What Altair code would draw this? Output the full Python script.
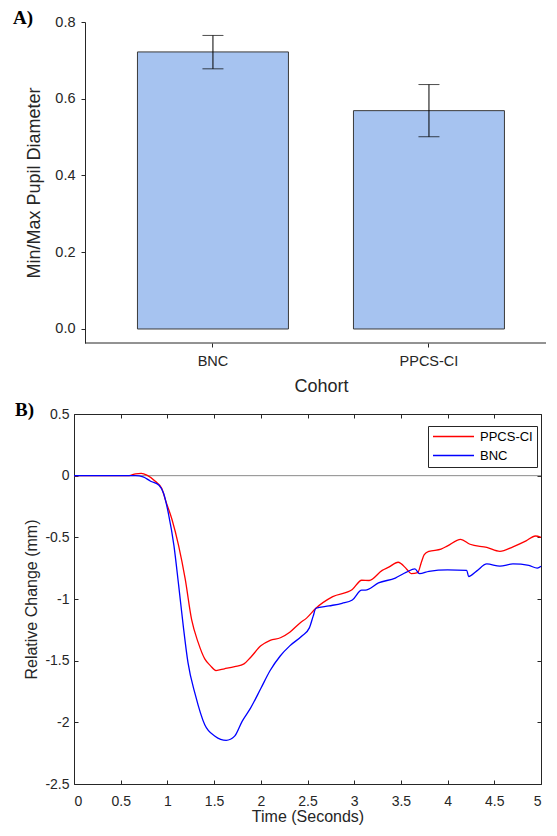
import altair as alt
import pandas as pd

# ---------------- data ----------------
COHORTS = ["BNC", "PPCS-CI"]
RATIO_MEAN = [0.722, 0.569]
RATIO_LOW = [0.678, 0.501]
RATIO_HIGH = [0.765, 0.637]
Y_TICKS_A = [0.0, 0.2, 0.4, 0.6, 0.8]

SERIES = ["PPCS-CI", "BNC"]
RED_T = [0, 0.3, 0.59, 0.66, 0.72, 0.78, 0.87, 0.94, 0.98, 1.05, 1.12, 1.19, 1.26, 1.33,
         1.40, 1.46, 1.52, 1.61, 1.72, 1.82, 1.89, 2.00, 2.10, 2.21, 2.31, 2.42, 2.49,
         2.59, 2.77, 2.98, 3.08, 3.16, 3.30, 3.37, 3.47, 3.56, 3.61, 3.68, 3.72, 3.75,
         3.80, 3.93, 4.00, 4.14, 4.24, 4.42, 4.56, 4.70, 4.84, 4.94, 5.00]
RED_V = [0, 0, 0, 0.015, 0.018, 0.005, -0.045, -0.104, -0.20, -0.357, -0.567, -0.835,
         -1.17, -1.354, -1.486, -1.54, -1.58, -1.566, -1.548, -1.526, -1.474, -1.38,
         -1.335, -1.314, -1.269, -1.194, -1.155, -1.075, -0.981, -0.923, -0.848, -0.85,
         -0.768, -0.742, -0.702, -0.756, -0.794, -0.786, -0.70, -0.64, -0.614, -0.596,
         -0.569, -0.516, -0.556, -0.582, -0.614, -0.577, -0.529, -0.489, -0.50]
BLUE_T = [0, 0.3, 0.6, 0.66, 0.74, 0.82, 0.91, 0.96, 1.01, 1.07, 1.12, 1.17, 1.22, 1.30,
          1.40, 1.51, 1.63, 1.72, 1.80, 1.89, 2.00, 2.10, 2.21, 2.31, 2.44, 2.52, 2.56,
          2.59, 2.73, 2.87, 2.98, 3.08, 3.12, 3.26, 3.44, 3.56, 3.65, 3.70, 3.80, 4.00,
          4.205, 4.225, 4.31, 4.42, 4.56, 4.70, 4.87, 4.96, 5.00]
BLUE_V = [0, 0, 0, 0.0, -0.01, -0.045, -0.077, -0.144, -0.303, -0.567, -0.886, -1.22,
          -1.514, -1.779, -2.019, -2.112, -2.146, -2.112, -1.992, -1.885, -1.726, -1.58,
          -1.46, -1.38, -1.30, -1.234, -1.141, -1.075, -1.056, -1.035, -1.008, -0.928,
          -0.928, -0.87, -0.83, -0.782, -0.756, -0.795, -0.776, -0.764, -0.768, -0.818,
          -0.774, -0.716, -0.734, -0.716, -0.728, -0.75, -0.735]
X_TICKS_B = [0, 0.5, 1, 1.5, 2, 2.5, 3, 3.5, 4, 4.5, 5]
Y_TICKS_B = [-2.5, -2, -1.5, -1, -0.5, 0, 0.5]

# ---------------- styles ----------------
SANS = "Liberation Sans"
SERIF = "Liberation Serif"
AX = "#262626"
WA, HA = 472, 321
WB, HB = 467, 370

bar_df = pd.DataFrame({"Cohort": COHORTS, "mean": RATIO_MEAN, "lo": RATIO_LOW, "hi": RATIO_HIGH})
line_df = pd.concat([
    pd.DataFrame({"t": RED_T, "v": RED_V, "series": SERIES[0]}),
    pd.DataFrame({"t": BLUE_T, "v": BLUE_V, "series": SERIES[1]}),
])
label_a = pd.DataFrame({"panel": ["A)"]})
label_b = pd.DataFrame({"panel": ["B)"]})
zero_df = pd.DataFrame({"zero": [0]})

# ---------------- panel A ----------------
xsA = alt.Scale(range=[11, WA], paddingInner=0.301, paddingOuter=0.2176, align=0.558)
ysA = alt.Scale(domain=[-0.0365, 0.8], nice=False)
x_axis_a = alt.Axis(title="Cohort", labelAngle=0, domain=False, ticks=True, tickSize=4,
                    labelFontSize=14.5, labelPadding=7, titleFontSize=18,
                    titlePadding=10, titleX=247)
y_axis_a = alt.Axis(title="Min/Max Pupil Diameter", values=Y_TICKS_A, format=".1f",
                    offset=-11, tickSize=4, labelFontSize=14.5, labelPadding=6,
                    titleFontSize=18, titlePadding=11)

def xa():
    return alt.X("Cohort:N", sort=COHORTS, scale=xsA, axis=x_axis_a)

def ya(field):
    return alt.Y(field, scale=ysA, axis=y_axis_a)

bars = alt.Chart(bar_df).mark_bar(color="#A6C3F0", stroke="#3a3a3a", strokeWidth=1).encode(
    x=xa(), y=ya("mean:Q"), y2=alt.datum(0)
)
err = alt.Chart(bar_df).mark_rule(color="black", strokeWidth=1).encode(
    x=xa(), y=ya("lo:Q"), y2="hi:Q"
)
cap_lo = alt.Chart(bar_df).mark_tick(color="black", orient="horizontal", size=21, thickness=1).encode(
    x=xa(), y=ya("lo:Q")
)
cap_hi = alt.Chart(bar_df).mark_tick(color="black", orient="horizontal", size=21, thickness=1).encode(
    x=xa(), y=ya("hi:Q")
)
x_line_a = alt.Chart(label_a).mark_rule(color=AX, strokeWidth=1).encode(
    x=alt.value(11), x2=alt.value(WA), y=alt.value(HA)
)
text_a = alt.Chart(label_a).mark_text(font=SERIF, fontSize=19, fontWeight="bold", align="left",
                                      baseline="alphabetic", color="black").encode(
    x=alt.value(-61), y=alt.value(2), text="panel:N"
)
panel_a = alt.layer(bars, err, cap_lo, cap_hi, x_line_a, text_a).properties(width=WA, height=HA)

# ---------------- panel B ----------------
xsB = alt.Scale(domain=[0, 5], nice=False)
ysB = alt.Scale(domain=[-2.5, 0.5], nice=False)

zero_rule = alt.Chart(zero_df).mark_rule(color="#8a8a8a", strokeWidth=1).encode(
    y=alt.Y("zero:Q", scale=ysB, axis=None)
)
lines = alt.Chart(line_df).mark_line(strokeWidth=1.3, interpolate="monotone").encode(
    x=alt.X("t:Q", scale=xsB,
            axis=alt.Axis(orient="bottom", title="Time (Seconds)", values=X_TICKS_B,
                          labelExpr="'' + datum.value", ticks=False, tickSize=0, domain=False,
                          labelFontSize=14, labelPadding=10, titleFontSize=16, titlePadding=0)),
    y=alt.Y("v:Q", scale=ysB,
            axis=alt.Axis(orient="left", title="Relative Change (mm)", values=Y_TICKS_B,
                          labelExpr="'' + datum.value", ticks=False, tickSize=0, domain=False,
                          labelFontSize=14, labelPadding=5, titleFontSize=16, titlePadding=5)),
    color=alt.Color("series:N", sort=SERIES,
                    scale=alt.Scale(domain=SERIES, range=["#FF0000", "#0000FF"]),
                    legend=alt.Legend(title=None, orient="none", legendX=354, legendY=12,
                                      symbolType="stroke", symbolSize=1681, symbolStrokeWidth=1.3,
                                      strokeColor=AX, fillColor="white", padding=4,
                                      labelFont=SANS, labelFontSize=13, labelColor="black",
                                      labelOffset=5, clipHeight=13, rowPadding=5)),
    detail="series:N",
)
ticks_in_1 = alt.Chart(line_df).mark_point(opacity=0).encode(
    x=alt.X("t:Q", scale=xsB,
            axis=alt.Axis(orient="top", offset=-HB, values=X_TICKS_B, labels=False, domain=False,
                          ticks=True, tickSize=4, title=None)),
    y=alt.Y("v:Q", scale=ysB,
            axis=alt.Axis(orient="right", offset=-WB, values=Y_TICKS_B, labels=False, domain=False,
                          ticks=True, tickSize=4, title=None)),
)
ticks_in_2 = alt.Chart(line_df).mark_point(opacity=0).encode(
    x=alt.X("t:Q", scale=xsB,
            axis=alt.Axis(orient="bottom", offset=-HB, values=X_TICKS_B, labels=False, domain=False,
                          ticks=True, tickSize=4, title=None)),
    y=alt.Y("v:Q", scale=ysB,
            axis=alt.Axis(orient="left", offset=-WB, values=Y_TICKS_B, labels=False, domain=False,
                          ticks=True, tickSize=4, title=None)),
)
text_b = alt.Chart(label_b).mark_text(font=SERIF, fontSize=19, fontWeight="bold", align="left",
                                      baseline="alphabetic", color="black").encode(
    x=alt.value(-59), y=alt.value(2), text="panel:N"
)
panel_b = alt.layer(zero_rule, lines, ticks_in_1, ticks_in_2, text_b).resolve_axis(
    x="independent", y="independent"
).properties(width=WB, height=HB, view=alt.ViewBackground(stroke=AX, strokeWidth=1))

chart = alt.vconcat(panel_a, panel_b, spacing=4).resolve_scale(color="independent").properties(
    padding={"left": 4, "top": 0, "right": -1, "bottom": 0}
).configure_axis(
    labelFont=SANS, titleFont=SANS, grid=False, labelColor=AX, titleColor=AX,
    domainColor=AX, tickColor=AX, titleFontWeight="normal"
).configure_view(stroke="transparent")

chart.save("out.html", embed_options={"renderer": "svg", "actions": False})
